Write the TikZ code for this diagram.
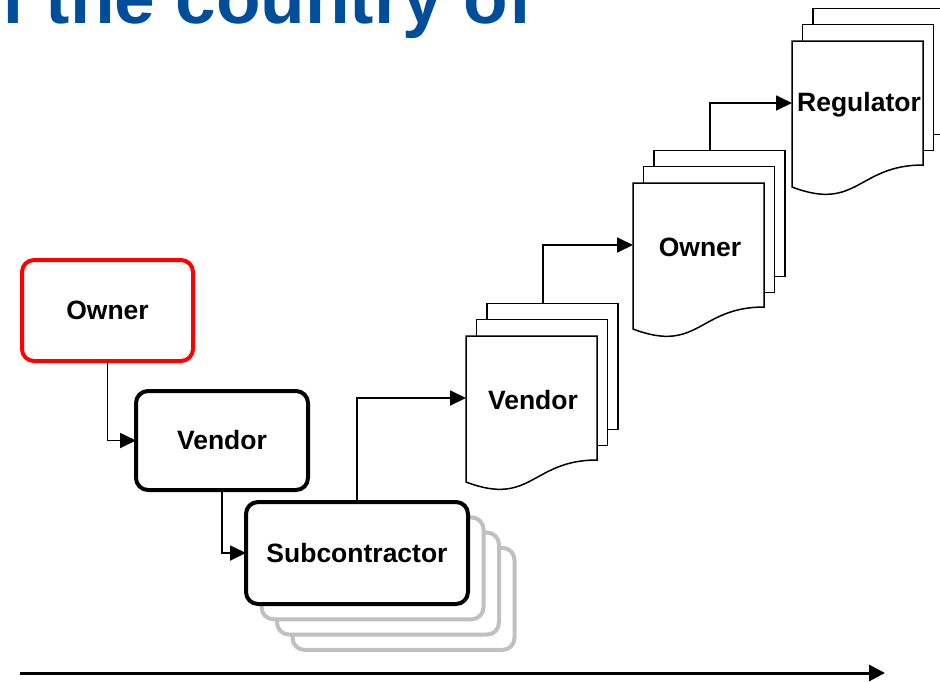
\documentclass[tikz,border=0pt]{standalone}
\usepackage{fontspec}
\setmainfont{Liberation Sans}
\usetikzlibrary{arrows.meta}

\definecolor{titleblue}{RGB}{0,77,153}
\definecolor{ghostgray}{RGB}{192,192,192}

\newcommand{\lbl}{\bfseries\fontsize{26.5}{30}\selectfont}

\tikzstyle{box} = [draw, fill=white, rounded corners=12pt, line width=4pt, minimum height=101pt, inner sep=0pt, outer sep=0pt, font=\lbl]
\tikzstyle{page} = [draw, fill=white, line width=1.5pt, minimum width=131pt, minimum height=126pt, inner sep=0pt, outer sep=0pt]
\tikzstyle{conn} = [-{Triangle[length=16pt,width=15pt]}, line width=1.8pt]

% stack of three pages: name, x, y (top left of front page), label
\newcommand{\docstack}[4]{%
  \begin{scope}[shift={(#2,#3)}]
    \node [page, anchor=north west] (#1c) at (21,-32.5) {};
    \node [page, anchor=north west] (#1b) at (10.5,-16.5) {};
    \draw [line width=1.5pt, fill=white] (0,0) -- (131,0) -- (131,124)
      .. controls (65.5,124) and (65.5,171) .. (0,146) -- cycle;
    \node [font=\lbl] (#1) at (67,64) {#4};
    \coordinate (#1in) at (0,62);
    \coordinate (#1out) at (77,-32.5);
  \end{scope}}

\begin{document}
\begin{tikzpicture}[x=1pt, y=-1pt]
	\useasboundingbox (0,0) rectangle (940,681);

	\node [anchor=base west, inner sep=0pt, text=titleblue, font=\bfseries\fontsize{73}{76}\selectfont] (title) at (1,23) {f the country of};

	\node [box, draw=red, minimum width=171pt] (owner) at (107.5,310.5) {Owner};
	\node [box, minimum width=172pt, minimum height=99pt] (vendor) at (222,440.5) {Vendor};
	\foreach \i in {3,2,1}
		\node [box, draw=ghostgray, minimum width=222pt, minimum height=102pt] (sub\i) at (357+15.5*\i, 553+15.3*\i) {};
	\node [box, minimum width=222pt, minimum height=102pt] (sub) at (357,553) {Subcontractor};

	\docstack{vend}{466}{336}{Vendor}
	\docstack{own}{633}{183}{Owner}
	\docstack{reg}{792}{41}{Regulator}

	\draw [conn] (owner.south) |- (vendor.west);
	\draw [conn] (vendor.south) |- (sub.west);
	\draw [conn] (sub.north) |- (vendin);
	\draw [conn] (vendout) |- (ownin);
	\draw [conn] (ownout) |- (regin);

	\coordinate (tstart) at (20,673);
	\coordinate (tend) at (885,673);
	\draw [-{Triangle[length=16pt,width=16pt]}, line width=3pt] (tstart) -- (tend);
\end{tikzpicture}
\end{document}
